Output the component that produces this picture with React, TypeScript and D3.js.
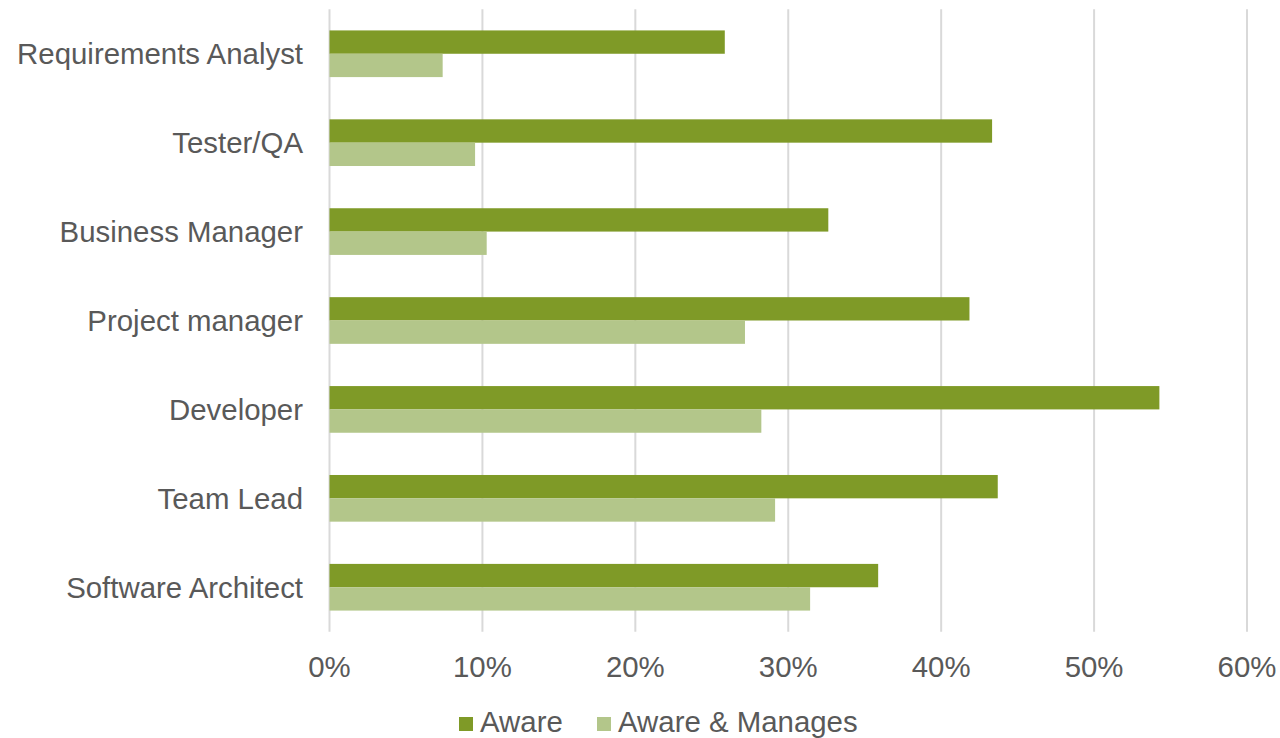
import React from "react";
import * as d3 from "d3";

const categories = [
  "Requirements Analyst",
  "Tester/QA",
  "Business Manager",
  "Project manager",
  "Developer",
  "Team Lead",
  "Software Architect",
];
const aware = [0.2585, 0.4333, 0.3262, 0.4185, 0.5427, 0.437, 0.3588];
const awareManages = [0.074, 0.0952, 0.1028, 0.2717, 0.2824, 0.2914, 0.3143];
const seriesNames = ["Aware", "Aware & Manages"];
const seriesColors = ["#7F9A27", "#B3C68A"];
const xTicks = [0, 0.1, 0.2, 0.3, 0.4, 0.5, 0.6];

const W = 1280;
const H = 738;
const FONT = "'Liberation Sans', Arial, sans-serif";
const TEXT = "#595959";
const FS = 29.4;

export default function App() {
  const x = d3.scaleLinear().domain([0, 0.6]).range([329.5, 1247]);
  const y = d3
    .scaleBand<string>()
    .domain(categories)
    .range([9.3, 631.7])
    .paddingInner(0.475)
    .paddingOuter(0.2375);
  const sub = d3
    .scaleBand<string>()
    .domain(seriesNames)
    .range([0, y.bandwidth()]);
  const series = [aware, awareManages];
  const fmt = d3.format(".0%");
  const legendX = [459, 597];

  return (
    <svg
      width={W}
      height={H}
      style={{ position: "absolute", left: 0, top: 0, background: "#fff" }}
      fontFamily={FONT}
    >
      {xTicks.map((t) => (
        <line
          key={"g" + t}
          x1={x(t)}
          x2={x(t)}
          y1={9.3}
          y2={631.7}
          stroke="#D9D9D9"
          strokeWidth={2}
        />
      ))}
      {categories.map((c, i) => (
        <g key={c}>
          {series.map((s, k) => (
            <rect
              key={k}
              x={x(0)}
              y={(y(c) as number) + (sub(seriesNames[k]) as number)}
              width={x(s[i]) - x(0)}
              height={sub.bandwidth()}
              fill={seriesColors[k]}
            />
          ))}
          <text
            x={303}
            y={(y(c) as number) + y.bandwidth() / 2}
            dy="0.35em"
            textAnchor="end"
            fontSize={FS}
            fill={TEXT}
          >
            {c}
          </text>
        </g>
      ))}
      {xTicks.map((t) => (
        <text
          key={"t" + t}
          x={x(t)}
          y={676.5}
          textAnchor="middle"
          fontSize={FS}
          fill={TEXT}
        >
          {fmt(t)}
        </text>
      ))}
      {seriesNames.map((n, k) => (
        <g key={n}>
          <rect x={legendX[k]} y={717} width={14} height={14} fill={seriesColors[k]} />
          <text x={legendX[k] + 21} y={731.5} fontSize={FS} fill={TEXT}>
            {n}
          </text>
        </g>
      ))}
    </svg>
  );
}
